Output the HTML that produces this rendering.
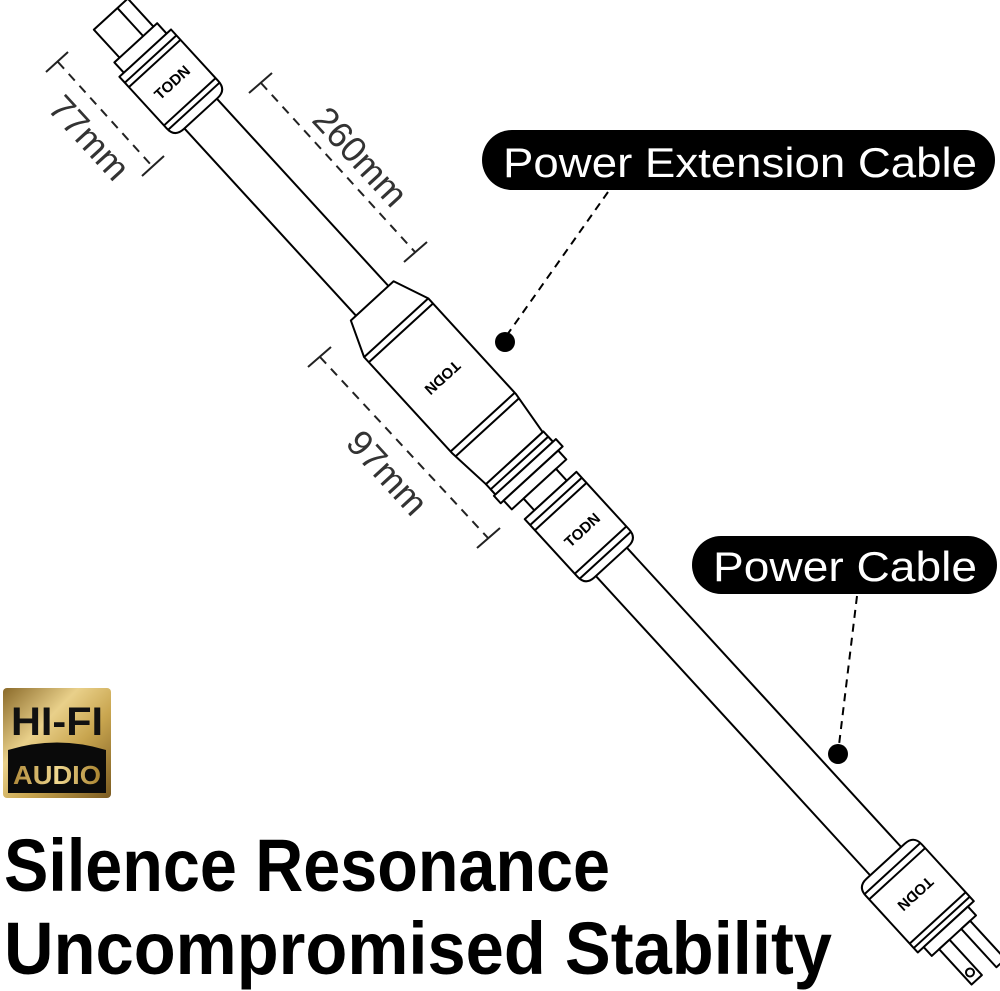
<!DOCTYPE html>
<html><head><meta charset="utf-8"><style>
html,body{margin:0;padding:0;background:#fff;}
svg{display:block;}
</style></head><body>
<svg width="1000" height="991" viewBox="0 0 1000 991" xmlns="http://www.w3.org/2000/svg">
<defs>
<linearGradient id="gold" x1="0" y1="0" x2="1" y2="1">
<stop offset="0" stop-color="#8a6a2a"/><stop offset="0.35" stop-color="#e9d08a"/><stop offset="0.6" stop-color="#c9a650"/><stop offset="1" stop-color="#7a5a20"/>
</linearGradient>
<linearGradient id="goldt" x1="0" y1="0" x2="1" y2="0">
<stop offset="0" stop-color="#b08a3a"/><stop offset="0.5" stop-color="#f0d890"/><stop offset="1" stop-color="#a8822e"/>
</linearGradient>
</defs>
<rect width="1000" height="991" fill="#fff"/>

<!-- dimension lines (screen coords) -->
<g stroke="#222" stroke-width="2" fill="none">
<line x1="58" y1="62" x2="152" y2="166" stroke-dasharray="9,7"/>
<line x1="46" y1="72" x2="68" y2="52"/><line x1="142" y1="176" x2="164" y2="156"/>
<line x1="261" y1="83" x2="415" y2="252" stroke-dasharray="9,7"/>
<line x1="249" y1="93" x2="272" y2="73"/><line x1="404" y1="262" x2="427" y2="242"/>
<line x1="320" y1="357" x2="488" y2="538" stroke-dasharray="9,7"/>
<line x1="308" y1="367" x2="331" y2="347"/><line x1="477" y1="548" x2="500" y2="528"/>
</g>
<g font-family="Liberation Sans, sans-serif" font-size="36" fill="#333" text-anchor="middle">
<text transform="translate(89,138) rotate(47.5)" dy="12">77mm</text>
<text transform="translate(360,157) rotate(47.5)" dy="12">260mm</text>
<text transform="translate(387,473) rotate(47.5)" dy="12">97mm</text>
</g>

<!-- cable assembly in local frame -->
<g transform="translate(179,90) rotate(47.5)" stroke="#000" stroke-width="2" fill="#fff" stroke-linejoin="round">
<!-- top plug prongs -->
<rect x="-102" y="-24" width="42" height="46"/>
<line x1="-102" y1="-10" x2="-60" y2="-10"/>
<rect x="-64" y="-29" width="16" height="58"/>
<!-- top plug body -->
<path d="M-50,-35 L20,-35 Q32,-35 32,-23 L32,23 Q32,35 20,35 L-50,35 Z"/>
<line x1="-42" y1="-35" x2="-42" y2="35"/><line x1="-36" y1="-35" x2="-36" y2="35"/>
<line x1="16" y1="-35" x2="16" y2="35"/><line x1="22" y1="-35" x2="22" y2="35"/>
<!-- cable 1 -->
<line x1="32" y1="-22" x2="286" y2="-22"/><line x1="32" y1="22" x2="286" y2="22"/>
<!-- extension -->
<path d="M286,-29 L322,-43 L452,-43 L498,-37 L498,40 L452,44 L322,44 L286,29 Z"/>
<line x1="322" y1="-43" x2="322" y2="44"/><line x1="329" y1="-43" x2="329" y2="44"/>
<line x1="450" y1="-43" x2="450" y2="44"/><line x1="457" y1="-43" x2="457" y2="44"/>
<rect x="498" y="-38" width="14" height="78"/>
<rect x="505" y="-38" width="7" height="78"/>
<rect x="512" y="-42" width="10" height="84"/>
<rect x="522" y="-36" width="12" height="74"/>
<!-- power plug -->
<rect x="534" y="-22" width="16" height="44"/>
<path d="M550,-35 L628,-35 Q640,-35 640,-23 L640,23 Q640,35 628,35 L550,35 Z"/>
<line x1="558" y1="-35" x2="558" y2="35"/><line x1="565" y1="-35" x2="565" y2="35"/>
<line x1="624" y1="-35" x2="624" y2="35"/><line x1="631" y1="-35" x2="631" y2="35"/>
<!-- cable 2 -->
<line x1="640" y1="-21" x2="1046" y2="-21"/><line x1="640" y1="21" x2="1046" y2="21"/>
<!-- bottom plug -->
<path d="M1058,-38 L1135,-38 L1135,38 L1058,38 Q1046,38 1046,26 L1046,-26 Q1046,-38 1058,-38 Z"/>
<line x1="1056" y1="-38" x2="1056" y2="38"/><line x1="1063" y1="-38" x2="1063" y2="38"/>
<line x1="1123" y1="-38" x2="1123" y2="38"/><line x1="1129" y1="-38" x2="1129" y2="38"/>
<rect x="1135" y="-30" width="12" height="60"/>
<rect x="1147" y="-22" width="52" height="12"/>
<rect x="1147" y="6" width="48" height="14"/>
<circle cx="1185" cy="13" r="4"/>
</g>
<!-- TODN labels -->
<g font-family="Liberation Sans, sans-serif" font-weight="bold" font-size="15" fill="#000" text-anchor="middle">
<text transform="translate(179,90) rotate(47.5) translate(-10,0) rotate(-90)" dy="5">TODN</text>
<text transform="translate(179,90) rotate(47.5) translate(390,0) rotate(90)" dy="5">TODN</text>
<text transform="translate(179,90) rotate(47.5) translate(597,0) rotate(-90)" dy="5">TODN</text>
<text transform="translate(179,90) rotate(47.5) translate(1090,0) rotate(90)" dy="5">TODN</text>
</g>

<!-- callouts -->
<rect x="482" y="130" width="513" height="60" rx="30" fill="#000"/>
<text x="503" y="177" font-family="Liberation Sans, sans-serif" font-size="42" fill="#fff" textLength="474" lengthAdjust="spacingAndGlyphs">Power Extension Cable</text>
<line x1="608" y1="192" x2="507" y2="335" stroke="#000" stroke-width="2" stroke-dasharray="8,6"/>
<circle cx="505" cy="342" r="10" fill="#000"/>
<rect x="692" y="536" width="305" height="58" rx="29" fill="#000"/>
<text x="713" y="581" font-family="Liberation Sans, sans-serif" font-size="42" fill="#fff" textLength="264" lengthAdjust="spacingAndGlyphs">Power Cable</text>
<line x1="857" y1="596" x2="839" y2="745" stroke="#000" stroke-width="2" stroke-dasharray="8,6"/>
<circle cx="838" cy="754" r="10" fill="#000"/>

<!-- HI-FI badge -->
<rect x="3" y="688" width="108" height="110" rx="4" fill="url(#gold)"/>
<path d="M8,750 Q57,735 106,750 L106,793 L8,793 Z" fill="#0a0a0a"/>
<text x="57" y="735" font-family="Liberation Sans, sans-serif" font-weight="bold" font-size="40" fill="#111" text-anchor="middle" textLength="92" lengthAdjust="spacingAndGlyphs">HI-FI</text>
<text x="57" y="784" font-family="Liberation Sans, sans-serif" font-weight="bold" font-size="26" fill="url(#goldt)" text-anchor="middle" textLength="88" lengthAdjust="spacingAndGlyphs">AUDIO</text>

<!-- headline -->
<g font-family="Liberation Sans, sans-serif" font-weight="bold" fill="#000">
<text x="4" y="891" font-size="74" textLength="606" lengthAdjust="spacingAndGlyphs">Silence Resonance</text>
<text x="4" y="974" font-size="74" textLength="828" lengthAdjust="spacingAndGlyphs">Uncompromised Stability</text>
</g>
</svg>
</body></html>
